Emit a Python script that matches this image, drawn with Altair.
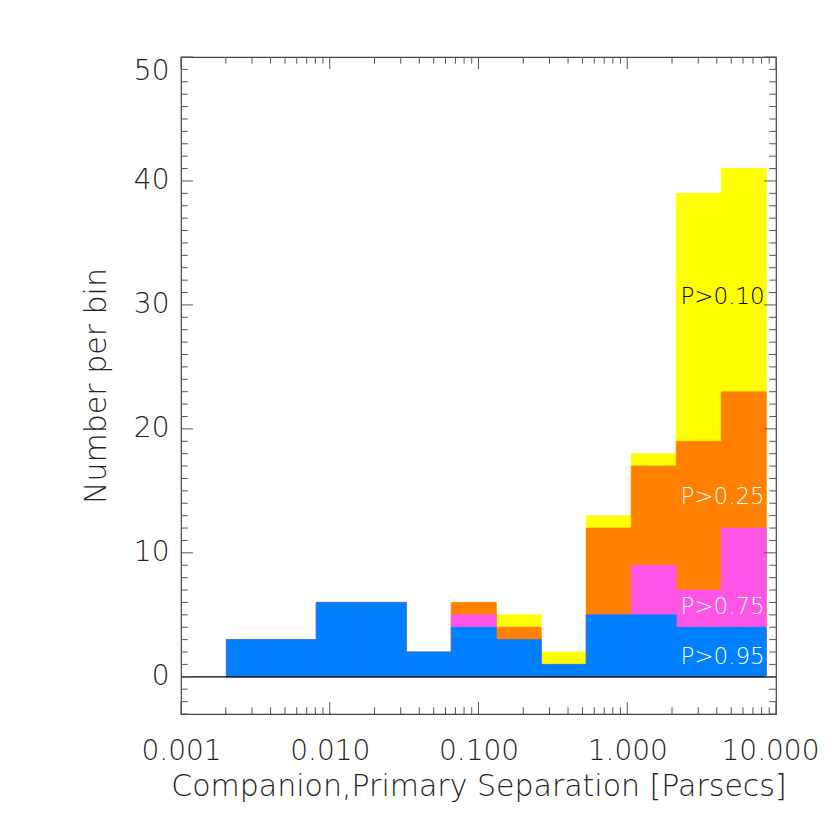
import altair as alt
import pandas as pd

# bin edges (parsecs)
edges = [0.00202, 0.00405, 0.00812, 0.0163, 0.0327, 0.0656, 0.1317,
         0.264, 0.530, 1.064, 2.135, 4.285, 8.60]
# cumulative counts per bin for each probability threshold
p10 = [3, 3, 6, 6, 2, 6, 5, 2, 13, 18, 39, 41]
p25 = [3, 3, 6, 6, 2, 6, 4, 1, 12, 17, 19, 23]
p75 = [3, 3, 6, 6, 2, 5, 3, 1, 5, 9, 7, 12]
p95 = [3, 3, 6, 6, 2, 4, 3, 1, 5, 5, 4, 4]

levels = ["P>0.10", "P>0.25", "P>0.75", "P>0.95"]
colors = ["#FFFF00", "#FF8000", "#FF55E6", "#0080FF"]
label_colors = ["black", "white", "white", "white"]
label_x = [8.4, 8.4, 8.4, 8.4]
label_y = [30.6, 14.5, 5.6, 1.6]

x_major = [0.001, 0.01, 0.1, 1.0, 10.0]
x_minor = [m * 10.0 ** k for k in range(-3, 1) for m in range(2, 10)]
y_major = [0, 10, 20, 30, 40, 50]
y_minor = [v for v in range(-3, 51) if v % 10 != 0]

W, H = 595, 657
FONT = "DejaVu Sans"

rows = []
for li, (lev, vals) in enumerate(zip(levels, [p10, p25, p75, p95])):
    for i, v in enumerate(vals):
        rows.append({"level": lev, "ord": li, "lo": edges[i], "hi": edges[i + 1], "n": v})
bars_df = pd.DataFrame(rows)

xs = alt.Scale(type="log", domain=[0.001, 10], nice=False)
ys = alt.Scale(domain=[-3, 50], nice=False, zero=False)

x_axis = alt.Axis(values=x_major, labelExpr="format(datum.value, '.3f')",
                  tickSize=0, domain=False, grid=False, labelPadding=23,
                  labelFontSize=28, labelFont=FONT, labelColor="#222",
                  labelFontWeight=200, labelFlush=False,
                  labelOffset={"condition": {"test": "datum.value >= 10", "value": -6}, "value": 0},
                  title="Companion,Primary Separation [Parsecs]",
                  titleFontSize=30, titleFont=FONT, titleFontWeight=200,
                  titleColor="#222", titlePadding=6)
y_axis = alt.Axis(values=y_major, tickSize=0, domain=False, grid=False,
                  labelPadding=12, labelFontSize=28, labelFont=FONT,
                  labelFontWeight=200, labelColor="#222", labelFlush=True,
                  title="Number per bin", titleFontSize=30, titleFont=FONT,
                  titleFontWeight=200, titleColor="#222", titlePadding=22)

bars = alt.Chart(bars_df).mark_rect(strokeWidth=0.7).encode(
    x=alt.X("lo:Q", scale=xs, axis=x_axis),
    x2="hi:Q",
    y=alt.Y("n:Q", scale=ys, axis=y_axis),
    y2=alt.datum(0),
    color=alt.Color("level:N", scale=alt.Scale(domain=levels, range=colors), legend=None),
    stroke=alt.Stroke("level:N", scale=alt.Scale(domain=levels, range=colors), legend=None),
    order=alt.Order("ord:Q"),
)

zero = alt.Chart(pd.DataFrame({"z": [0]})).mark_rule(color="black", strokeWidth=1.2).encode(
    y=alt.Y("z:Q", scale=ys), x=alt.value(0), x2=alt.value(W))

lab_df = pd.DataFrame({"t": levels, "x": label_x, "y": label_y, "c": label_colors})
labels = alt.Chart(lab_df).mark_text(align="right", baseline="middle", fontSize=23,
                                     font=FONT, fontWeight=200).encode(
    x=alt.X("x:Q", scale=xs), y=alt.Y("y:Q", scale=ys),
    text="t:N", color=alt.Color("c:N", scale=None))

tick_col = "#555"
xmaj_df = pd.DataFrame({"v": x_major})
xmin_df = pd.DataFrame({"v": x_minor})
ymaj_df = pd.DataFrame({"v": y_major})
ymin_df = pd.DataFrame({"v": y_minor})

def xt(df, y0, y1):
    return alt.Chart(df).mark_rule(color=tick_col, strokeWidth=1).encode(
        x=alt.X("v:Q", scale=xs), y=alt.value(y0), y2=alt.value(y1))

def yt(df, x0, x1):
    return alt.Chart(df).mark_rule(color=tick_col, strokeWidth=1).encode(
        y=alt.Y("v:Q", scale=ys), x=alt.value(x0), x2=alt.value(x1))

ticks = [
    xt(xmaj_df, H, H - 12), xt(xmin_df, H, H - 6.7),
    xt(xmaj_df, 0, 12), xt(xmin_df, 0, 6.7),
    yt(ymaj_df, 0, 12), yt(ymin_df, 0, 6.7),
    yt(ymaj_df, W, W - 12), yt(ymin_df, W, W - 6.7),
]

chart = alt.layer(bars, zero, labels, *ticks).properties(
    width=W, height=H,
    autosize=alt.AutoSizeParams(type="none"),
    padding={"left": 173, "top": 49, "right": 46, "bottom": 95},
).configure_view(stroke="#444", strokeWidth=1.2)

chart.save("out.html", embed_options={"renderer": "svg", "actions": False})
